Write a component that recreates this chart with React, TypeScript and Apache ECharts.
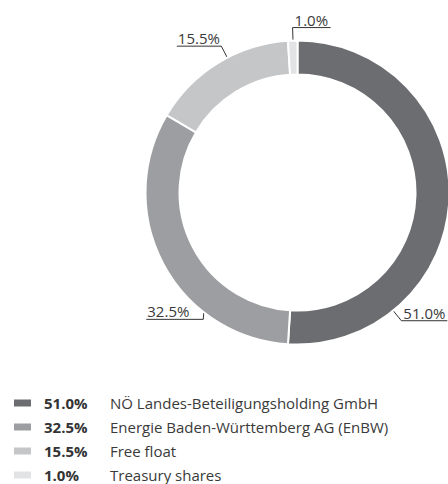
import React, { useEffect, useRef } from 'react';
import * as echarts from 'echarts';

const names = [
  'NÖ Landes-Beteiligungsholding GmbH',
  'Energie Baden-Württemberg AG (EnBW)',
  'Free float',
  'Treasury shares',
];
const shares = [51.0, 32.5, 15.5, 1.0];
const colors = ['#6c6d70', '#9d9ea1', '#c5c6c8', '#e2e3e4'];

// layout / style of the ring and its leader lines
const CX = 297.5;
const CY = 192.5;
const R_IN = 118;
const R_OUT = 152;
const anchorAngles = [141, 218.3, 332.5, 358.3];
const elbowAngles = [141, 216.6, 332.5, 358.3];
const elbowRadii = [165, 158, 165, 165];
const lineLengths = [46, 57, 44.5, 38];
const sides = [1, -1, -1, 1];

const FONT = '"Open Sans", "Noto Sans", sans-serif';

function pt(angleDeg: number, r: number): number[] {
  const a = (angleDeg * Math.PI) / 180;
  return [CX + r * Math.sin(a), CY - r * Math.cos(a)];
}

function pct(v: number) {
  return v.toFixed(1) + '%';
}

export default function App() {
  const ref = useRef<HTMLDivElement>(null);
  useEffect(() => {
    if (!ref.current) return;
    const chart = echarts.init(ref.current, undefined, { renderer: 'svg' });
    chart.setOption({
      animation: false,
      backgroundColor: '#ffffff',
      legend: {
        orient: 'vertical',
        left: 12,
        top: 395.5,
        height: 120,
        padding: 0,
        itemWidth: 19,
        itemHeight: 9,
        itemGap: 9.0,
        icon: 'rect',
        selectedMode: false,
        data: names,
        formatter: (name: string) => {
          const i = names.indexOf(name);
          return `{p|${pct(shares[i])}}{n|${name}}`;
        },
        textStyle: {
          fontFamily: FONT,
          rich: {
            p: {
              fontFamily: FONT,
              fontWeight: 'bold',
              fontSize: 15,
              color: '#333333',
              width: 66,
              padding: [0, 0, 0, 7],
              lineHeight: 14,
            },
            n: {
              fontFamily: FONT,
              fontSize: 15,
              color: '#3a3a3a',
              lineHeight: 14,
            },
          },
        },
      },
      series: [
        {
          type: 'pie',
          center: [CX, CY],
          radius: [R_IN, R_OUT],
          startAngle: 90,
          clockwise: true,
          avoidLabelOverlap: false,
          silent: true,
          emphasis: { disabled: true },
          itemStyle: { borderColor: '#ffffff', borderWidth: 2 },
          label: {
            show: true,
            position: 'outside',
            fontFamily: FONT,
            fontSize: 15,
            color: '#3a3a3a',
            formatter: (p: any) => pct(shares[p.dataIndex]),
          },
          labelLine: {
            show: true,
            length: 12,
            length2: 40,
            lineStyle: { color: '#333333', width: 1 },
          },
          labelLayout: (params: any) => {
            const i = params.dataIndex;
            const p0 = pt(anchorAngles[i], 151);
            const p1 = pt(elbowAngles[i], elbowRadii[i]);
            const s = sides[i];
            const p2 = [p1[0] + s * lineLengths[i], p1[1]];
            return {
              x: s > 0 ? p1[0] + 2 : p2[0] + 1,
              y: p1[1] - 0.5,
              align: 'left',
              verticalAlign: 'bottom',
              labelLinePoints: [p0, p1, p2],
            };
          },
          data: names.map((n, i) => ({
            name: n,
            value: shares[i],
            itemStyle: { color: colors[i] },
          })),
        },
      ],
    });
    return () => chart.dispose();
  }, []);
  return (
    <div
      ref={ref}
      style={{ position: 'fixed', left: 0, top: 0, width: 448, height: 484 }}
    />
  );
}
